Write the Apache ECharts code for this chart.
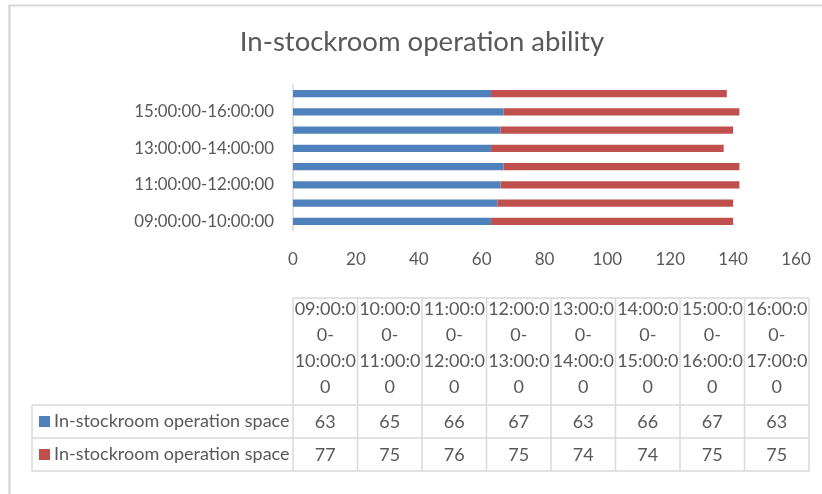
<!DOCTYPE html>
<html>
<head>
<meta charset="utf-8">
<title>In-stockroom operation ability</title>
<script src="https://cdn.jsdelivr.net/npm/echarts@6/dist/echarts.min.js"></script>
<style>
  html, body { margin: 0; padding: 0; background: #fff; }
  #main { width: 822px; height: 494px; }
</style>
</head>
<body>
<div id="main"></div>
<script>
// data
const categories = [
  '09:00:00-10:00:00', '10:00:00-11:00:00', '11:00:00-12:00:00', '12:00:00-13:00:00',
  '13:00:00-14:00:00', '14:00:00-15:00:00', '15:00:00-16:00:00', '16:00:00-17:00:00'
];
const blueValues = [63, 65, 66, 67, 63, 66, 67, 63];
const redValues = [77, 75, 76, 75, 74, 74, 75, 75];
const seriesNames = ['In-stockroom operation space', 'In-stockroom operation space'];
const seriesColors = ['#4F81BD', '#C0504D'];

const FONT = 'Lato';
const TEXT = '#595959';
const RULE = '#d9d9d9';

const chart = echarts.init(document.getElementById('main'), null, { renderer: 'canvas' });

// data table under the chart (Excel style)
const tableLeft = 293, colW = 64.5, headTop = 298, headBottom = 405, rowH = 33, keyLeft = 32;
const tableRight = tableLeft + colW * categories.length;
const rowsBottom = headBottom + rowH * 2;

// split "09:00:00-10:00:00" like Excel wraps it in a narrow cell
function wrapHeader(s) {
  const out = [];
  const parts = s.split('-');
  parts.forEach(function (p, i) {
    if (i < parts.length - 1) p = p + '-';
    while (p.length > 7) { out.push(p.slice(0, 7)); p = p.slice(7); }
    out.push(p);
  });
  return out;
}

function line(x1, y1, x2, y2) {
  return { type: 'line', shape: { x1: x1, y1: y1, x2: x2, y2: y2 }, style: { stroke: RULE, lineWidth: 1.5 }, silent: true };
}
function text(str, x, y, align, size) {
  return {
    type: 'text', silent: true,
    style: {
      text: str, x: x, y: y, fill: TEXT, fontSize: size || 18, fontFamily: FONT,
      align: align || 'center', textAlign: align || 'center',
      verticalAlign: 'middle', textVerticalAlign: 'middle'
    }
  };
}

const graphics = [];
// outer chart frame (top and left edges visible)
graphics.push({ type: 'line', shape: { x1: 8, y1: 5.5, x2: 822, y2: 5.5 }, style: { stroke: RULE, lineWidth: 2 }, silent: true });
graphics.push({ type: 'line', shape: { x1: 9.5, y1: 5, x2: 9.5, y2: 494 }, style: { stroke: RULE, lineWidth: 2.5 }, silent: true });

// horizontal rules
graphics.push(line(tableLeft, headTop, tableRight, headTop));
graphics.push(line(keyLeft, headBottom, tableRight, headBottom));
graphics.push(line(keyLeft, headBottom + rowH, tableRight, headBottom + rowH));
graphics.push(line(keyLeft, rowsBottom, tableRight, rowsBottom));
// vertical rules
graphics.push(line(keyLeft, headBottom, keyLeft, rowsBottom));
for (let i = 0; i <= categories.length; i++) {
  const x = tableLeft + colW * i;
  graphics.push(line(x, headTop, x, rowsBottom));
}
// header cells
categories.forEach(function (c, i) {
  const cx = tableLeft + colW * (i + 0.5);
  wrapHeader(c).forEach(function (ln, k) {
    graphics.push(text(ln, cx, 309 + k * 26));
  });
});
// value rows
[blueValues, redValues].forEach(function (vals, r) {
  const cy = headBottom + rowH * (r + 0.5);
  vals.forEach(function (v, i) {
    graphics.push(text(String(v), tableLeft + colW * (i + 0.5), cy + 1));
  });
  graphics.push({ type: 'rect', silent: true, shape: { x: 39, y: cy - 5.5, width: 11, height: 11 }, style: { fill: seriesColors[r] } });
  graphics.push(text(seriesNames[r], 54, cy, 'left'));
});

const option = {
  animation: false,
  title: {
    text: 'In-stockroom operation ability',
    left: 422, top: 28, textAlign: 'center', padding: 0,
    textStyle: { fontSize: 27.5, fontWeight: 'normal', color: TEXT, fontFamily: FONT }
  },
  grid: { left: 293, right: 26, top: 84.5, height: 146, containLabel: false },
  xAxis: {
    type: 'value', min: 0, max: 160, interval: 20,
    splitLine: { show: false }, axisLine: { show: false }, axisTick: { show: false },
    axisLabel: { color: TEXT, fontSize: 17, fontFamily: FONT, margin: 21 }
  },
  yAxis: {
    type: 'category', data: categories,
    axisTick: { show: false },
    axisLine: { lineStyle: { color: RULE, width: 1.5 } },
    axisLabel: { interval: 1, margin: 19, color: TEXT, fontSize: 16.8, fontFamily: FONT }
  },
  series: [
    { name: seriesNames[0], type: 'bar', stack: 'total', data: blueValues, barCategoryGap: '60%', itemStyle: { color: seriesColors[0] } },
    { name: seriesNames[1], type: 'bar', stack: 'total', data: redValues, barCategoryGap: '60%', itemStyle: { color: seriesColors[1] } }
  ],
  graphic: graphics
};

chart.setOption(option);
</script>
</body>
</html>
